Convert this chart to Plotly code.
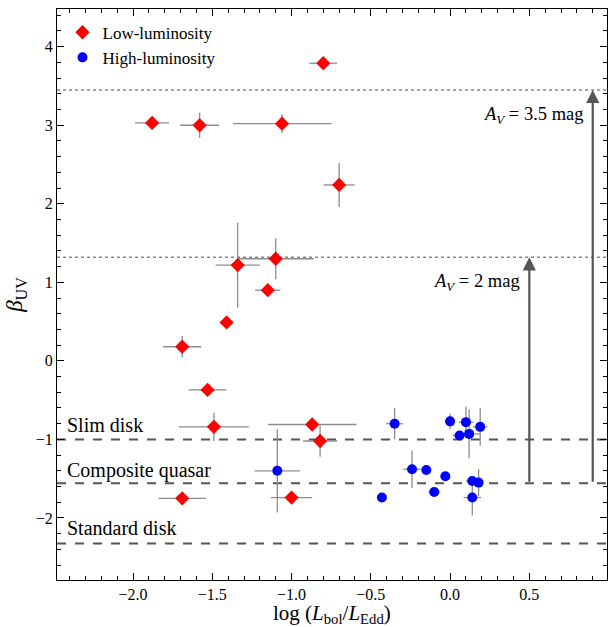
import plotly.graph_objects as go

# Low-luminosity sample
low_x = [-0.80, -1.88, -1.58, -1.06, -0.70, -1.34, -1.10, -1.15, -1.41, -1.69, -1.53, -1.49, -0.87, -0.82, -1.69, -1.00]
low_y = [3.79, 3.03, 3.00, 3.02, 2.24, 1.22, 1.30, 0.90, 0.49, 0.18, -0.37, -0.84, -0.81, -1.02, -1.75, -1.74]
low_xerr = [0.087, 0.107, 0.122, 0.31, 0.098, 0.139, 0.24, 0.08, 0.0, 0.12, 0.119, 0.22, 0.28, 0.108, 0.15, 0.13]
low_yerr = [0.0, 0.0, 0.16, 0.12, 0.28, 0.54, 0.26, 0.0, 0.0, 0.136, 0.0, 0.18, 0.0, 0.2, 0.0, 0.0]

# High-luminosity sample
high_x = [-1.09, -0.35, 0.00, 0.10, 0.19, 0.06, 0.12, -0.24, -0.15, -0.03, 0.14, 0.18, -0.10, -0.43, 0.14]
high_y = [-1.40, -0.80, -0.77, -0.78, -0.84, -0.95, -0.93, -1.38, -1.39, -1.47, -1.53, -1.55, -1.67, -1.74, -1.74]
high_xerr = [0.143, 0.053, 0.0, 0.047, 0.045, 0.044, 0.074, 0.055, 0.0, 0.0, 0.04, 0.0, 0.037, 0.0, 0.055]
high_yerr = [0.53, 0.2, 0.1, 0.2, 0.24, 0.0, 0.31, 0.24, 0.0, 0.0, 0.0, 0.17, 0.0, 0.0, 0.23]

# Reference lines
model_names = ["Slim disk", "Composite quasar", "Standard disk"]
model_beta = [-1.00, -1.557, -2.325]
extinct_beta = [1.32, 3.45]
extinct_labels = ["<i>A</i><sub><i>V</i></sub> = 2 mag", "<i>A</i><sub><i>V</i></sub> = 3.5 mag"]
arrow_x = [0.5, 0.9]
x_title = "log (<i>L</i><sub>bol</sub>/<i>L</i><sub>Edd</sub>)"

XR = [-2.48, 0.99]
YR = [-2.79, 4.48]
FONT = "Liberation Serif"

fig = go.Figure()

for yb in extinct_beta:
    fig.add_trace(go.Scatter(x=XR, y=[yb, yb], mode="lines", showlegend=False, hoverinfo="skip",
                             line=dict(color="#888888", width=1.5, dash="dot")))
for yb in model_beta:
    fig.add_trace(go.Scatter(x=XR, y=[yb, yb], mode="lines", showlegend=False, hoverinfo="skip",
                             line=dict(color="#555555", width=2, dash="dash")))

err_style = dict(type="data", color="#8c8c8c", thickness=1.3, width=0)
fig.add_trace(go.Scatter(
    x=low_x, y=low_y, mode="markers", name="Low-luminosity",
    error_x=dict(array=low_xerr, **err_style), error_y=dict(array=low_yerr, **err_style),
    marker=dict(symbol="diamond", size=11, color="#ff0000", line=dict(width=0))))
fig.add_trace(go.Scatter(
    x=high_x, y=high_y, mode="markers", name="High-luminosity",
    error_x=dict(array=high_xerr, **err_style), error_y=dict(array=high_yerr, **err_style),
    marker=dict(symbol="circle", size=10, color="#0000ff", line=dict(width=0))))

# invisible trace on mirrored axes (top/right ticks)
fig.add_trace(go.Scatter(x=XR, y=YR, xaxis="x2", yaxis="y2", mode="markers", showlegend=False,
                         hoverinfo="skip", marker=dict(opacity=0)))

# text labels for model lines
label_y = [-0.82, -1.39, -2.13]
for name, ly in zip(model_names, label_y):
    fig.add_annotation(x=XR[0] + 0.05, y=ly, text=name, showarrow=False, xanchor="left", yanchor="middle",
                       font=dict(family=FONT, size=20, color="black"))

# extinction arrows
for ax_, yb in zip(arrow_x, extinct_beta):
    fig.add_annotation(x=ax_, y=yb, ax=ax_, ay=model_beta[1], xref="x", yref="y", axref="x", ayref="y",
                       showarrow=True, arrowhead=2, arrowsize=1.2, arrowwidth=2.2, arrowcolor="#555555", text="")
fig.add_annotation(x=0.455, y=1.0, text=extinct_labels[0], showarrow=False, xanchor="right", yanchor="middle",
                   font=dict(family=FONT, size=18.5, color="black"))
fig.add_annotation(x=0.855, y=3.12, text=extinct_labels[1], showarrow=False, xanchor="right", yanchor="middle",
                   font=dict(family=FONT, size=18.5, color="black"))

# x-axis title placed as annotation below the tick labels
fig.add_annotation(x=0.5, y=-0.06, xref="paper", yref="paper", text=x_title, showarrow=False,
                   xanchor="center", yanchor="middle", font=dict(family=FONT, size=21, color="black"))

tick_common = dict(showgrid=False, zeroline=False, ticks="inside", ticklen=7, tickcolor="black", tickwidth=1,
                   tickfont=dict(family=FONT, size=16, color="black"))
xminor = dict(dtick=0.1, tick0=0, ticks="inside", ticklen=4, tickcolor="black")
yminor = dict(dtick=0.2, tick0=0, ticks="inside", ticklen=4, tickcolor="black")

fig.update_layout(
    width=608, height=627, margin=dict(l=57, r=1, t=9, b=47),
    plot_bgcolor="white", paper_bgcolor="white",
    xaxis=dict(range=XR, dtick=0.5, tick0=0, tickformat=".1f", minor=xminor,
               showline=True, linecolor="black", linewidth=1, mirror=True,
               **tick_common),
    yaxis=dict(range=YR, dtick=1, tick0=0, minor=yminor,
               showline=True, linecolor="black", linewidth=1, mirror=True,
               title=dict(text="<i>β</i><sub>UV</sub>", font=dict(family=FONT, size=23, color="black"), standoff=6),
               **tick_common),
    xaxis2=dict(range=XR, dtick=0.5, tick0=0, minor=xminor, overlaying="x", side="top",
                showticklabels=False, showline=False, **tick_common),
    yaxis2=dict(range=YR, dtick=1, tick0=0, minor=yminor, overlaying="y", side="right",
                showticklabels=False, showline=False, **tick_common),
    legend=dict(x=0.01, y=0.99, xanchor="left", yanchor="top", bgcolor="rgba(0,0,0,0)",
                font=dict(family=FONT, size=17, color="black")),
    font=dict(family=FONT),
)

fig.write_html("out.html")
